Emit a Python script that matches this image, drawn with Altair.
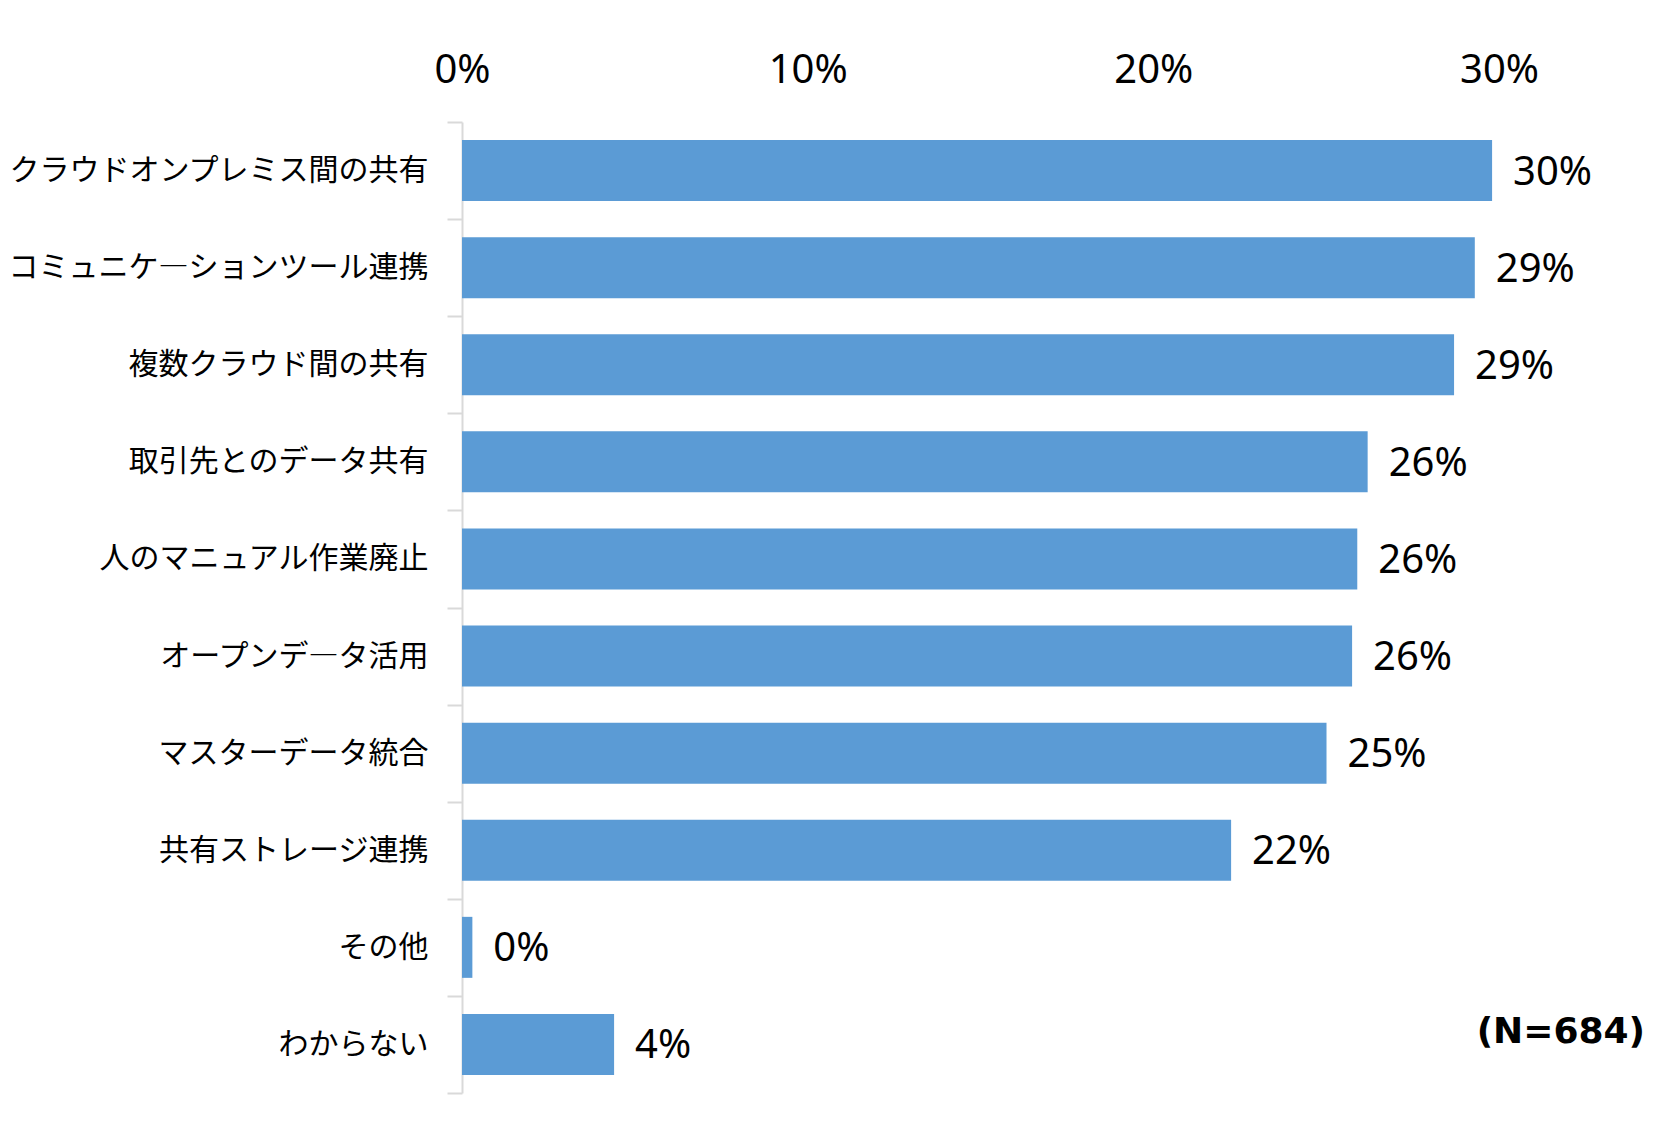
import altair as alt
import pandas as pd

categories = [
    "クラウドオンプレミス間の共有",
    "コミュニケ―ションツール連携",
    "複数クラウド間の共有",
    "取引先とのデータ共有",
    "人のマニュアル作業廃止",
    "オープンデ―タ活用",
    "マスターデータ統合",
    "共有ストレージ連携",
    "その他",
    "わからない",
]
values = [0.298, 0.293, 0.287, 0.262, 0.259, 0.2575, 0.2501, 0.2225, 0.003, 0.044]
x_ticks = [0.0, 0.1, 0.2, 0.3]
note_text = "(N=684)"
note_category = "わからない"

df = pd.DataFrame({"category": categories, "value": values})
note_df = pd.DataFrame({"note": [note_text], "category": [note_category]})

y_enc = alt.Y(
    "category:N",
    sort=categories,
    title=None,
    scale=alt.Scale(paddingInner=0, paddingOuter=0),
    axis=alt.Axis(
        labelFont="Noto Sans CJK JP",
        labelFontSize=30,
        labelColor="#000000",
        tickBand="extent",
        ticks=True,
        tickSize=15,
        tickColor="#D9D9D9",
        tickWidth=2,
        domainColor="#D9D9D9",
        domainWidth=2,
        labelPadding=19,
        labelLimit=600,
        minExtent=453,
        maxExtent=453,
        grid=False,
    ),
)
x_enc = alt.X(
    "value:Q",
    title=None,
    scale=alt.Scale(domain=[0, 0.3], nice=False),
    axis=alt.Axis(
        orient="top",
        values=x_ticks,
        format=".0%",
        labelFont="Noto Sans",
        labelFontSize=40,
        labelColor="#000000",
        ticks=False,
        domain=False,
        grid=False,
        labelPadding=40,
        labelBaseline="alphabetic",
        labelFlush=False,
        minExtent=114,
        maxExtent=114,
    ),
)

base = alt.Chart(df)
bars = base.mark_bar(color="#5B9BD5", size=61).encode(y=y_enc, x=x_enc)
labels = base.mark_text(
    align="left", baseline="middle", dx=21, dy=2, font="Noto Sans", fontSize=40, color="#000000"
).encode(y=alt.Y("category:N", sort=categories), x="value:Q", text=alt.Text("value:Q", format=".0%"))
note = alt.Chart(note_df).mark_text(
    align="right", baseline="middle", dy=-12, font="DejaVu Sans", fontWeight="bold",
    fontSize=36, color="#000000"
).encode(x=alt.value(1183), y=alt.Y("category:N", sort=categories), text="note:N")

chart = (
    alt.layer(bars, labels, note)
    .properties(
        width=1037,
        height=971,
        background="white",
        padding={"left": 0, "top": 0, "right": 10, "bottom": 10},
    )
    .configure_view(stroke=None, strokeWidth=0)
)

chart.save("out.html", embed_options={"renderer": "svg", "actions": False})
